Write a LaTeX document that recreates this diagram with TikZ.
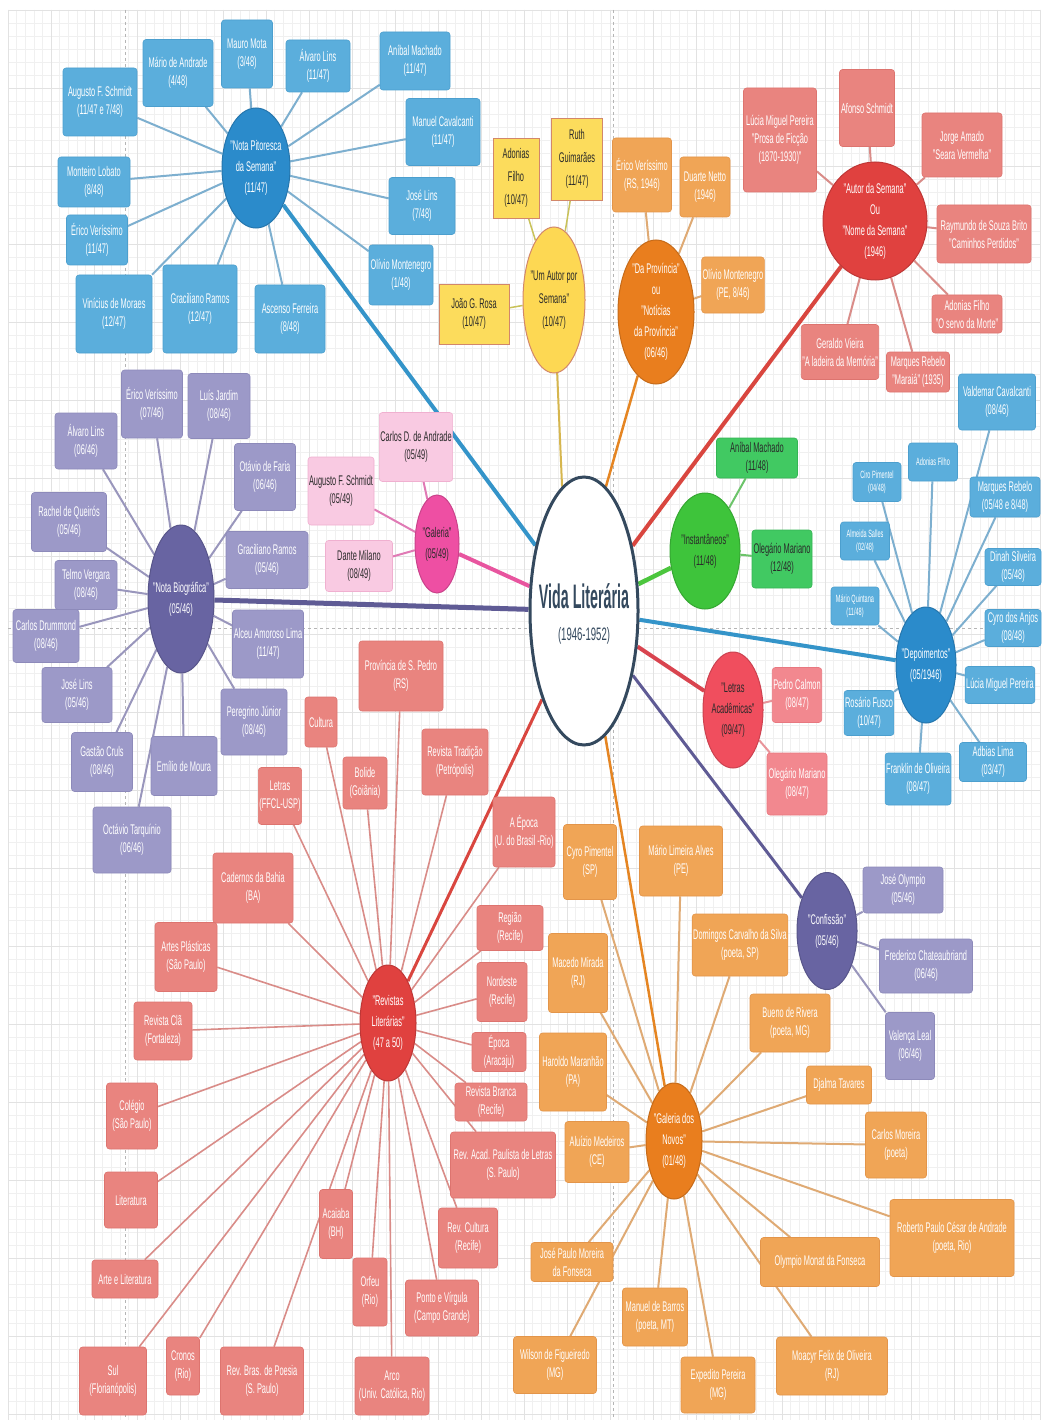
\documentclass[tikz,border=0pt]{standalone}
\usepackage{fontspec}
\setmainfont{Liberation Sans}[FakeStretch=0.53]
\newfontfamily\bigfont{Liberation Sans}[FakeStretch=0.42]
\usetikzlibrary{shapes.geometric,backgrounds}
\definecolor{cline}{HTML}{34495E}
\definecolor{bhub}{HTML}{2B8BCB}\definecolor{bbox}{HTML}{5BAEDC}\definecolor{bbrd}{HTML}{4C9FCE}\definecolor{bln}{HTML}{7DAFCF}\definecolor{bthick}{HTML}{3494C9}
\definecolor{yhub}{HTML}{FDD853}\definecolor{ybrd}{HTML}{D2876A}\definecolor{ybox}{HTML}{FCDC5C}\definecolor{yln}{HTML}{C9C25A}\definecolor{ythick}{HTML}{D6B64E}
\definecolor{ohub}{HTML}{E97E1E}\definecolor{obox}{HTML}{F0A556}\definecolor{obrd}{HTML}{E3954A}\definecolor{oln}{HTML}{DFAA74}\definecolor{othick}{HTML}{E58522}
\definecolor{rhub}{HTML}{E0413F}\definecolor{rbox}{HTML}{E9847F}\definecolor{rbrd}{HTML}{DD746F}\definecolor{rln}{HTML}{D98C88}\definecolor{rthick}{HTML}{D9463F}
\definecolor{phub}{HTML}{6864A2}\definecolor{pbox}{HTML}{9C99C8}\definecolor{pbrd}{HTML}{8D8ABA}\definecolor{pln}{HTML}{9996BC}\definecolor{pthick}{HTML}{5F5B95}
\definecolor{khub}{HTML}{EE4FA3}\definecolor{kbox}{HTML}{F9CAE2}\definecolor{kbrd}{HTML}{F0B0D0}\definecolor{kln}{HTML}{E07AB5}\definecolor{kthick}{HTML}{E8559F}
\definecolor{ghub}{HTML}{3EC43B}\definecolor{gbox}{HTML}{41C962}\definecolor{gbrd}{HTML}{35B554}\definecolor{gln}{HTML}{6CC46A}\definecolor{gthick}{HTML}{4CC63E}
\definecolor{lhub}{HTML}{F04E5E}\definecolor{lbox}{HTML}{F2888F}\definecolor{lbrd}{HTML}{E87880}\definecolor{lln}{HTML}{E8949A}\definecolor{lthick}{HTML}{D9444F}
\definecolor{dtext}{HTML}{2A2A2A}
\definecolor{gridc}{HTML}{F0F0F0}\definecolor{gridm}{HTML}{E2E2E2}\definecolor{dashc}{HTML}{B5B5B5}
\newcommand\leaffont{\fontsize{14}{18}\selectfont}
\newcommand\smallleaf{\fontsize{10.5}{13}\selectfont}
\newcommand\hubfont{\fontsize{14}{21}\selectfont}
\newcommand\yfont{\fontsize{14}{23}\selectfont}
\tikzset{
 sz/.style 2 args={minimum width=#1pt, minimum height=#2pt},
 leafbox/.style 2 args={rectangle, rounded corners=3pt, fill=#1, draw=#2, line width=0.6pt, inner sep=1pt, align=center, font=\leaffont, text=white},
 hubshape/.style 2 args={ellipse, fill=#1, draw=#2, line width=1pt, inner sep=0pt},
 hubtext/.style={align=center, font=\hubfont, text=white, inner sep=0pt},
 bl/.style={leafbox={bbox}{bbrd}},
 yl/.style={leafbox={ybox}{ybrd}, rounded corners=0pt, text=dtext, font=\yfont},
 ol/.style={leafbox={obox}{obrd}},
 rd/.style={leafbox={rbox}{rbrd}},
 pu/.style={leafbox={pbox}{pbrd}},
 pk/.style={leafbox={kbox}{kbrd}, text=dtext},
 gr/.style={leafbox={gbox}{gbrd}, text=dtext},
 lt/.style={leafbox={lbox}{lbrd}},
 sm/.style={font=\smallleaf},
}
\begin{document}
\begin{tikzpicture}[x=1pt,y=-1pt]
\useasboundingbox (0,0) rectangle (1041,1420);

% ---------- central ----------
\node[ellipse, draw=cline, line width=3pt, fill=white, sz={108}{268}, inner sep=0pt] (c) at (584,611) {};
\node[text=cline, inner sep=0pt, font=\bigfont\fontsize{34}{36}\selectfont\bfseries] (ct1) at (584,596) {Vida Literária};
\node[text=cline, inner sep=0pt, font=\fontsize{18}{20}\selectfont] (ct2) at (584,636) {(1946-1952)};

% ---------- Nota Pitoresca ----------
\node[hubshape={bhub}{bhub!85!black}, sz={68}{120}] (np) at (256,168) {};
\node[hubtext] (npt) at (np) {"Nota Pitoresca\\da Semana"\\(11/47)};
\node[bl, sz={74}{68}] (npa) at (100,102) {Augusto F. Schmidt\\(11/47 e 7/48)};
\node[bl, sz={70}{67}] (npb) at (178,73) {Mário de Andrade\\(4/48)};
\node[bl, sz={51}{68}] (npc) at (247,54) {Mauro Mota\\(3/48)};
\node[bl, sz={64}{52}] (npd) at (318,66) {Álvaro Lins\\(11/47)};
\node[bl, sz={70}{58}] (npe) at (415,61) {Aníbal Machado\\(11/47)};
\node[bl, sz={74}{67}] (npf) at (443,132) {Manuel Cavalcanti\\(11/47)};
\node[bl, sz={66}{57}] (npg) at (422,206) {José Lins\\(7/48)};
\node[bl, sz={64}{60}] (nph) at (401,275) {Olívio Montenegro\\(1/48)};
\node[bl, sz={70}{68}] (npi) at (290,319) {Ascenso Ferreira\\(8/48)};
\node[bl, sz={74}{88}] (npj) at (200,309) {Graciliano Ramos\\(12/47)};
\node[bl, sz={76}{78}] (npk) at (114,314) {Vinícius de Moraes\\(12/47)};
\node[bl, sz={61}{50}] (npl) at (97,240) {Érico Veríssimo\\(11/47)};
\node[bl, sz={72}{50}] (npm) at (94,182) {Monteiro Lobato\\(8/48)};

% ---------- Um Autor por Semana ----------
\node[hubshape={yhub}{ybrd}, sz={62}{146}] (ua) at (554,300) {};
\node[hubtext, text=dtext, font=\yfont] (uat) at (ua) {"Um Autor por\\Semana"\\(10/47)};
\node[yl, sz={46}{80}] (uaa) at (516,178) {Adonias\\Filho\\(10/47)};
\node[yl, sz={51}{82}] (uab) at (577,159) {Ruth\\Guimarães\\(11/47)};
\node[yl, sz={70}{60}, font=\leaffont] (uac) at (474,314) {João G. Rosa\\(10/47)};

% ---------- Da Provincia ----------
\node[hubshape={ohub}{ohub!85!black}, sz={76}{144}] (dp) at (656,312) {};
\node[hubtext] (dpt) at (dp) {"Da Província"\\ou\\"Notícias\\da Província"\\(06/46)};
\node[ol, sz={59}{74}] (dpa) at (642,175) {Érico Veríssimo\\(RS, 1946)};
\node[ol, sz={50}{60}] (dpb) at (705,187) {Duarte Netto\\(1946)};
\node[ol, sz={60}{56}] (dpc) at (733,285) {Olívio Montenegro\\(PE, 8/46)};

% ---------- Autor da Semana ----------
\node[hubshape={rhub}{rhub!85!black}, sz={104}{118}] (as) at (875,221) {};
\node[hubtext] (ast) at (as) {"Autor da Semana"\\Ou\\"Nome da Semana"\\(1946)};
\node[rd, sz={73}{104}] (asa) at (780,140) {Lúcia Miguel Pereira\\"Prosa de Ficção\\(1870-1930)"};
\node[rd, sz={55}{77}] (asb) at (867,108) {Afonso Schmidt};
\node[rd, sz={80}{64}] (asc) at (962,145) {Jorge Amado\\"Seara Vermelha"};
\node[rd, sz={94}{58}] (asd) at (984,234) {Raymundo de Souza Brito\\"Caminhos Perdidos"};
\node[rd, sz={70}{38}] (ase) at (967,314) {Adonias Filho\\"O servo da Morte"};
\node[rd, sz={63}{40}] (asf) at (918,372) {Marques Rebelo\\"Maraiá" (1935)};
\node[rd, sz={75}{55}] (asg) at (840,352) {Geraldo Vieira\\"A ladeira da Memória"};

% ---------- Nota Biografica ----------
\node[hubshape={phub}{phub!85!black}, sz={66}{148}] (nb) at (181,599) {};
\node[hubtext] (nbt) at (nb) {"Nota Biográfica"\\(05/46)};
\node[pu, sz={61}{68}] (nba) at (152,404) {Érico Veríssimo\\(07/46)};
\node[pu, sz={62}{65}] (nbb) at (219,406) {Luís Jardim\\(08/46)};
\node[pu, sz={62}{56}] (nbc) at (86,441) {Álvaro Lins\\(06/46)};
\node[pu, sz={61}{67}] (nbd) at (265,477) {Otávio de Faria\\(06/46)};
\node[pu, sz={75}{59}] (nbe) at (69,522) {Rachel de Queirós\\(05/46)};
\node[pu, sz={82}{57}] (nbf) at (267,560) {Graciliano Ramos\\(05/46)};
\node[pu, sz={62}{49}] (nbg) at (86,585) {Telmo Vergara\\(08/46)};
\node[pu, sz={66}{53}] (nbh) at (46,636) {Carlos Drummond\\(08/46)};
\node[pu, sz={71}{68}] (nbi) at (268,644) {Alceu Amoroso Lima\\(11/47)};
\node[pu, sz={70}{55}] (nbj) at (77,695) {José Lins\\(05/46)};
\node[pu, sz={61}{59}] (nbk) at (102,762) {Gastão Cruls\\(08/46)};
\node[pu, sz={66}{59}] (nbl) at (184,766) {Emílio de Moura};
\node[pu, sz={66}{66}] (nbm) at (254,722) {Peregrino Júnior\\(08/46)};
\node[pu, sz={78}{66}] (nbn) at (132,840) {Octávio Tarquínio\\(06/46)};

% ---------- Galeria ----------
\node[hubshape={khub}{khub!85!black}, sz={44}{98}] (ga) at (437,544) {};
\node[hubtext, text=dtext] (gat) at (ga) {"Galeria"\\(05/49)};
\node[pk, sz={72}{69}] (gaa) at (416,447) {Carlos D. de Andrade\\(05/49)};
\node[pk, sz={66}{68}] (gab) at (341,491) {Augusto F. Schmidt\\(05/49)};
\node[pk, sz={67}{51}] (gac) at (359,566) {Dante Milano\\(08/49)};

% ---------- Instantaneos ----------
\node[hubshape={ghub}{ghub!85!black}, sz={70}{116}] (in) at (705,551) {};
\node[hubtext, text=dtext] (intx) at (in) {"Instantâneos"\\(11/48)};
\node[gr, sz={81}{40}] (ina) at (757,458) {Aníbal Machado\\(11/48)};
\node[gr, sz={60}{58}] (inb) at (782,559) {Olegário Mariano\\(12/48)};

% ---------- Depoimentos ----------
\node[hubshape={bhub}{bhub!85!black}, sz={60}{116}] (de) at (926,665) {};
\node[hubtext] (det) at (de) {"Depoimentos"\\(05/1946)};
\node[bl, sz={77}{56}] (dea) at (997,402) {Valdemar Cavalcanti\\(08/46)};
\node[bl, sm, sz={49}{38}] (deb) at (933,462) {Adonias Filho};
\node[bl, sm, sz={48}{39}] (dec) at (877,482) {Ciro Pimentel\\(04/48)};
\node[bl, sz={70}{40}] (ded) at (1005,497) {Marques Rebelo\\(05/48 e 8/48)};
\node[bl, sm, sz={49}{38}] (dee) at (865,541) {Almeida Salles\\(02/48)};
\node[bl, sz={56}{37}] (def) at (1013,567) {Dinah Silveira\\(05/48)};
\node[bl, sm, sz={48}{38}] (deg) at (855,606) {Mário Quintana\\(11/48)};
\node[bl, sz={56}{37}] (deh) at (1013,628) {Cyro dos Anjos\\(08/48)};
\node[bl, sz={69}{37}] (dei) at (1000,685) {Lúcia Miguel Pereira};
\node[bl, sz={48}{45}] (dej) at (869,713) {Rosário Fusco\\(10/47)};
\node[bl, sz={67}{39}] (dek) at (993,762) {Adbias Lima\\(03/47)};
\node[bl, sz={64}{52}] (del) at (918,779) {Franklin de Oliveira\\(08/47)};

% ---------- Letras Academicas ----------
\node[hubshape={lhub}{lhub!85!black}, sz={60}{116}] (la) at (733,710) {};
\node[hubtext, text=dtext] (lat) at (la) {"Letras\\Acadêmicas"\\(09/47)};
\node[lt, sz={49}{55}] (laa) at (797,695) {Pedro Calmon\\(08/47)};
\node[lt, sz={60}{62}] (lab) at (797,784) {Olegário Mariano\\(08/47)};

% ---------- Confissao ----------
\node[hubshape={phub}{phub!85!black}, sz={60}{117}] (cf) at (827,931) {};
\node[hubtext] (cft) at (cf) {"Confissão"\\(05/46)};
\node[pu, sz={80}{46}] (cfa) at (903,890) {José Olympio\\(05/46)};
\node[pu, sz={93}{54}] (cfb) at (926,966) {Frederico Chateaubriand\\(06/46)};
\node[pu, sz={49}{67}] (cfc) at (910,1046) {Valença Leal\\(06/46)};

% ---------- Revistas Literarias ----------
\node[hubshape={rhub}{rhub!85!black}, sz={56}{116}] (rl) at (388,1023) {};
\node[hubtext] (rlt) at (rl) {"Revistas\\Literárias"\\(47 a 50)};
\node[rd, sz={84}{70}] (rla) at (401,676) {Província de S. Pedro\\(RS)};
\node[rd, sz={32}{50}] (rlb) at (321,722) {Cultura};
\node[rd, sz={44}{52}] (rlc) at (365,783) {Bolide\\(Goiânia)};
\node[rd, sz={66}{66}] (rld) at (455,762) {Revista Tradição\\(Petrópolis)};
\node[rd, sz={41}{57}] (rle) at (280,796) {Letras\\(FFCL-USP)};
\node[rd, sz={62}{70}] (rlf) at (524,832) {A Época\\(U. do Brasil -Rio)};
\node[rd, sz={80}{70}] (rlg) at (253,888) {Cadernos da Bahia\\(BA)};
\node[rd, sz={66}{45}] (rlh) at (510,928) {Região\\(Recife)};
\node[rd, sz={62}{69}] (rli) at (186,957) {Artes Plásticas\\(São Paulo)};
\node[rd, sz={50}{59}] (rlj) at (502,992) {Nordeste\\(Recife)};
\node[rd, sz={58}{58}] (rlk) at (163,1031) {Revista Clã\\(Fortaleza)};
\node[rd, sz={54}{39}] (rll) at (499,1052) {Época\\(Aracaju)};
\node[rd, sz={72}{38}] (rlm) at (491,1102) {Revista Branca\\(Recife)};
\node[rd, sz={51}{66}] (rln) at (132,1116) {Colégio\\(São Paulo)};
\node[rd, sz={105}{66}] (rlo) at (503,1165) {Rev. Acad. Paulista de Letras\\(S. Paulo)};
\node[rd, sz={53}{56}] (rlp) at (131,1200) {Literatura};
\node[rd, sz={33}{69}] (rlq) at (336,1224) {Acaiaba\\(BH)};
\node[rd, sz={59}{60}] (rlr) at (468,1238) {Rev. Cultura\\(Recife)};
\node[rd, sz={66}{38}] (rls) at (125,1279) {Arte e Literatura};
\node[rd, sz={34}{68}] (rlt2) at (370,1292) {Orfeu\\(Rio)};
\node[rd, sz={73}{56}] (rlu) at (442,1308) {Ponto e Vírgula\\(Campo Grande)};
\node[rd, sz={67}{68}] (rlv) at (113,1381) {Sul\\(Florianópolis)};
\node[rd, sz={33}{58}] (rlw) at (183,1366) {Cronos\\(Rio)};
\node[rd, sz={83}{68}] (rlx) at (262,1381) {Rev. Bras. de Poesia\\(S. Paulo)};
\node[rd, sz={74}{58}] (rly) at (392,1386) {Arco\\(Univ. Católica, Rio)};

% ---------- Galeria dos Novos ----------
\node[hubshape={ohub}{ohub!85!black}, sz={56}{116}] (gn) at (674,1141) {};
\node[hubtext] (gnt) at (gn) {"Galeria dos\\Novos"\\(01/48)};
\node[ol, sz={53}{75}] (gna) at (590,862) {Cyro Pimentel\\(SP)};
\node[ol, sz={83}{70}] (gnb) at (681,861) {Mário Limeira Alves\\(PE)};
\node[ol, sz={91}{62}] (gnc) at (740,945) {Domingos Carvalho da Silva\\(poeta, SP)};
\node[ol, sz={59}{79}] (gnd) at (578,973) {Macedo Mirada\\(RJ)};
\node[ol, sz={80}{58}] (gne) at (790,1023) {Bueno de Rivera\\(poeta, MG)};
\node[ol, sz={67}{78}] (gnf) at (573,1072) {Haroldo Maranhão\\(PA)};
\node[ol, sz={65}{38}] (gng) at (839,1085) {Djalma Tavares};
\node[ol, sz={64}{61}] (gnh) at (597,1152) {Aluízio Medeiros\\(CE)};
\node[ol, sz={61}{66}] (gni) at (896,1145) {Carlos Moreira\\(poeta)};
\node[ol, sz={124}{77}] (gnj) at (952,1238) {Roberto Paulo César de Andrade\\(poeta, Rio)};
\node[ol, sz={82}{39}] (gnk) at (572,1262) {José Paulo Moreira\\da Fonseca};
\node[ol, sz={119}{49}] (gnl) at (820,1262) {Olympio Monat da Fonseca};
\node[ol, sz={65}{58}] (gnm) at (655,1317) {Manuel de Barros\\(poeta, MT)};
\node[ol, sz={83}{57}] (gnn) at (555,1365) {Wilson de Figueiredo\\(MG)};
\node[ol, sz={74}{56}] (gno) at (718,1385) {Expedito Pereira\\(MG)};
\node[ol, sz={111}{58}] (gnp) at (832,1366) {Moacyr Felix de Oliveira\\(RJ)};

\begin{pgfonlayer}{background}
 \fill[white] (0,0) rectangle (1041,1420);
 % grid
 \foreach \i in {0,...,120} {\draw[gridc, line width=0.5pt] ({8+8.6*\i},10) -- ({8+8.6*\i},1420);}
 \foreach \i in {0,...,108} {\draw[gridc, line width=0.5pt] (8,{10+13*\i}) -- (1041,{10+13*\i});}
 \foreach \i in {0,...,24} {\draw[gridm, line width=0.6pt] ({8+43*\i},10) -- ({8+43*\i},1420);}
 \foreach \i in {0,...,18} {\draw[gridm, line width=0.6pt] (8,{10+78*\i}) -- (1041,{10+78*\i});}
 \draw[dashc, dashed, line width=0.7pt] (125,10) -- (125,1420);
 \draw[dashc, dashed, line width=0.7pt] (613,10) -- (613,1420);
 \draw[dashc, dashed, line width=0.7pt] (8,628) -- (1041,628);
 % main branches
 \draw[bthick, line width=4pt] (c) -- (np);
 \draw[ythick, line width=2pt] (c.100) -- (ua);
 \draw[othick, line width=2.5pt] (c.80) -- (dp);
 \draw[rthick, line width=4pt] (c) -- (as);
 \draw[kthick, line width=4pt] (c) -- (ga);
 \draw[gthick, line width=4.5pt] (c) -- (in);
 \draw[pthick, line width=5pt] (c) -- (nb);
 \draw[bthick, line width=4pt] (c) -- (de);
 \draw[lthick, line width=4pt] (c) -- (la);
 \draw[pthick, line width=3pt] (c) -- (cf);
 \draw[rthick, line width=3pt] (c) -- (rl);
 \draw[othick, line width=2.5pt] (c) -- (gn);
 % leaves
 \foreach \n in {npa,npb,npc,npd,npe,npf,npg,nph,npi,npj,npk,npl,npm} \draw[bln, line width=2pt] (np) -- (\n);
 \foreach \n in {uaa,uab,uac} \draw[yln, line width=1.5pt] (ua) -- (\n);
 \foreach \n in {dpa,dpb,dpc} \draw[oln, line width=2pt] (dp) -- (\n);
 \foreach \n in {asa,asb,asc,asd,ase,asf,asg} \draw[rln, line width=2pt] (as) -- (\n);
 \foreach \n in {nba,nbb,nbc,nbd,nbe,nbf,nbg,nbh,nbi,nbj,nbk,nbl,nbm,nbn} \draw[pln, line width=2pt] (nb) -- (\n);
 \foreach \n in {gaa,gab,gac} \draw[kln, line width=2pt] (ga) -- (\n);
 \foreach \n in {ina,inb} \draw[gln, line width=2pt] (in) -- (\n);
 \foreach \n in {dea,deb,dec,ded,dee,def,deg,deh,dei,dej,dek,del} \draw[bln, line width=2pt] (de) -- (\n);
 \foreach \n in {laa,lab} \draw[lln, line width=2pt] (la) -- (\n);
 \foreach \n in {cfa,cfb,cfc} \draw[pln, line width=2pt] (cf) -- (\n);
 \foreach \n in {rla,rlb,rlc,rld,rle,rlf,rlg,rlh,rli,rlj,rlk,rll,rlm,rln,rlo,rlp,rlq,rlr,rls,rlt2,rlu,rlv,rlw,rlx,rly} \draw[rln, line width=1.6pt] (rl) -- (\n);
 \foreach \n in {gna,gnb,gnc,gnd,gne,gnf,gng,gnh,gni,gnj,gnk,gnl,gnm,gnn,gno,gnp} \draw[oln, line width=2pt] (gn) -- (\n);
\end{pgfonlayer}
\end{tikzpicture}
\end{document}
